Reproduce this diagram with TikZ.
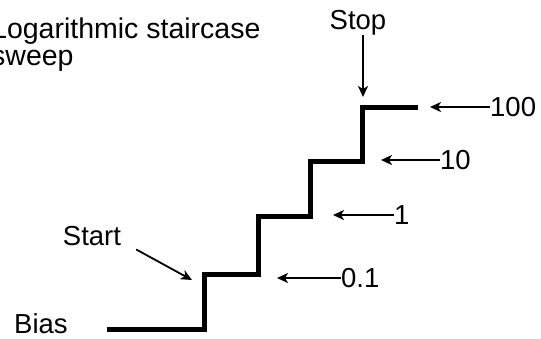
\documentclass[tikz,border=0pt]{standalone}
\usepackage{fontspec}
\setmainfont{Liberation Sans}
\usetikzlibrary{arrows.meta}
\begin{document}
\begin{tikzpicture}[x=1pt,y=-1pt,
  lbl/.style={inner sep=0pt,font=\fontsize{27.5}{28}\selectfont},
  ttl/.style={inner sep=0pt,font=\fontsize{28.5}{29}\selectfont},
  arr/.style={line width=1.8pt,-{Stealth[length=11pt,width=10pt,inset=3pt]}},
  stair/.style={line width=5pt,line join=miter,line cap=butt}]
\useasboundingbox (0,0) rectangle (541,338);

% title
\node[ttl,anchor=base west] (title1) at (-9,38) {Logarithmic staircase};
\node[ttl,anchor=base west] (title2) at (-9,65) {sweep};

% the staircase
\draw[stair] (107,329) -| (204,274) -| (258,216) -| (310,161) -| (362,107) -- (418,107);

% labels
\node[lbl,anchor=base west] (bias) at (14,333) {Bias};
\node[lbl,anchor=base] (start) at (92,245) {Start};
\node[lbl,anchor=base] (stop) at (358,29) {Stop};
\node[lbl,anchor=west] (v100) at (490,107) {100};
\node[lbl,anchor=west] (v10) at (440,160) {10};
\node[lbl,anchor=west] (v1) at (394,215) {1};
\node[lbl,anchor=west] (v01) at (341,278) {0.1};

% arrow tips
\coordinate (starttip) at (192,280);
\coordinate (stoptip) at (363,97);
\coordinate (t100) at (430,107);
\coordinate (t10) at (381,160);
\coordinate (t1) at (333,215);
\coordinate (t01) at (277,278);

\draw[arr] ([xshift=15pt,yshift=-4pt]start.south east) -- (starttip);
\draw[arr] ([xshift=5pt]stop.south) -- (stoptip);
\draw[arr] (v100.west) -- (t100);
\draw[arr] (v10.west) -- (t10);
\draw[arr] (v1.west) -- (t1);
\draw[arr] (v01.west) -- (t01);
\end{tikzpicture}
\end{document}
